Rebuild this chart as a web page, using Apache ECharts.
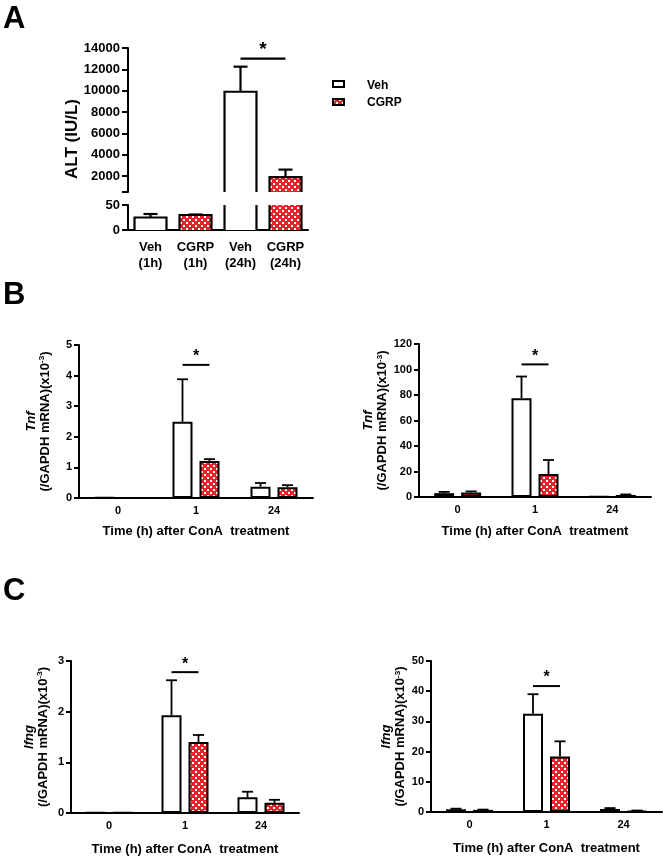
<!DOCTYPE html>
<html><head><meta charset="utf-8">
<script src="https://cdn.jsdelivr.net/npm/echarts@6/dist/echarts.min.js"></script>
<style>html,body{margin:0;padding:0;background:#fff}#c{width:669px;height:860px}</style>
</head><body><div id="c"></div>
<script>
// ---------- Panel A data ----------
const aCategories = ['Veh\n(1h)', 'CGRP\n(1h)', 'Veh\n(24h)', 'CGRP\n(24h)'];
const aValues = [25, 30, 9900, 1900];
const aErrors = [7, 1, 2350, 700];
const aGroups = ['Veh', 'CGRP', 'Veh', 'CGRP'];
const aUpperTicks = [2000, 4000, 6000, 8000, 10000, 12000, 14000];
const aUpperMin = 500, aUpperMax = 14000;
const aLowerMax = 50;
const aSig = [2, 3, 13000];

// ---------- Panels B & C data ----------
const timeCategories = ['0', '1', '24'];
const bLeftVeh = [0.02, 2.49, 0.37],  bLeftVehErr = [0, 1.39, 0.12];
const bLeftCgrp = [0.005, 1.21, 0.35], bLeftCgrpErr = [0, 0.06, 0.07];
const bRightVeh = [3.0, 77.5, 0.3],   bRightVehErr = [1.0, 17, 0];
const bRightCgrp = [3.6, 18, 1.6],    bRightCgrpErr = [0.8, 11, 0.4];
const cLeftVeh = [0.01, 1.93, 0.31],  cLeftVehErr = [0, 0.69, 0.11];
const cLeftCgrp = [0.01, 1.40, 0.20], cLeftCgrpErr = [0, 0.14, 0.06];
const cRightVeh = [0.9, 32.5, 1.0],   cRightVehErr = [0.2, 6.5, 0.3];
const cRightCgrp = [0.7, 18.4, 0.4],  cRightCgrpErr = [0.1, 5.0, 0.1];
const sigY = {bLeft: 4.35, bRight: 104, cLeft: 2.78, cRight: 41.7};
const xName = 'Time (h) after ConA  treatment';

const FONT = "'Liberation Sans', Arial, Helvetica, sans-serif";
const RED = '#e8232a';

// checker pattern for CGRP
const pc = document.createElement('canvas');
pc.width = 6; pc.height = 6;
const px = pc.getContext('2d');
px.fillStyle = RED; px.fillRect(0, 0, 6, 6);
px.fillStyle = '#ffffff';
px.fillRect(0, 0, 2, 2); px.fillRect(3, 3, 2, 2);
const pattern = {image: pc, repeat: 'repeat'};

const chart = echarts.init(document.getElementById('c'), null, {renderer: 'canvas'});

const grids = [], xAxes = [], yAxes = [], series = [];

// ----- Panel A -----
grids.push({left: 128, top: 48, width: 180, height: 144});   // 0 upper
grids.push({left: 128, top: 205, width: 180, height: 25});   // 1 lower
xAxes.push({type: 'category', gridIndex: 0, data: aCategories, show: false});
xAxes.push({type: 'category', gridIndex: 1, data: aCategories,
  axisLine: {lineStyle: {color: '#000', width: 2}},
  axisTick: {alignWithLabel: true, length: 5, lineStyle: {color: '#000', width: 2}},
  axisLabel: {interval: 0, color: '#000', fontFamily: FONT, fontWeight: 'bold', fontSize: 13, lineHeight: 16, margin: 9}
});
yAxes.push({type: 'value', gridIndex: 0, min: aUpperMin, max: aUpperMax,
  splitLine: {show: false},
  axisLine: {show: true, lineStyle: {color: '#000', width: 2}},
  axisTick: {show: true, length: 6, customValues: [aUpperMin].concat(aUpperTicks), lineStyle: {color: '#000', width: 2}},
  axisLabel: {customValues: aUpperTicks, formatter: function (v) { return String(v); }, color: '#000', fontFamily: FONT, fontWeight: 'bold', fontSize: 13, margin: 8}
});
yAxes.push({type: 'value', gridIndex: 1, min: 0, max: aLowerMax, interval: 50,
  splitLine: {show: false},
  axisLine: {show: true, lineStyle: {color: '#000', width: 2}},
  axisTick: {show: true, length: 6, lineStyle: {color: '#000', width: 2}},
  axisLabel: {color: '#000', fontFamily: FONT, fontWeight: 'bold', fontSize: 13, margin: 8}
});

function aRender(isUpper) {
  return function (params, api) {
    const cs = params.coordSys;
    const i = api.value(0), v = api.value(1), e = api.value(2), g = api.value(3);
    if (isUpper && v <= aUpperMin) return;
    const cx = api.coord([i, isUpper ? aUpperMin : 0])[0];
    const bw = api.size([1, 0])[0] * 0.71;
    const x0 = cx - bw / 2, x1 = cx + bw / 2;
    const bottom = cs.y + cs.height, top = cs.y;
    const yTop = api.coord([i, v])[1];
    const ct = Math.max(yTop, top);
    const st = {stroke: '#000', lineWidth: 2.2};
    const ch = [{type: 'rect', shape: {x: x0, y: ct, width: bw, height: bottom - ct},
      style: {fill: g ? pattern : '#fff'}}];
    if (yTop >= top) {
      ch.push({type: 'polyline', shape: {points: [[x0, bottom], [x0, yTop], [x1, yTop], [x1, bottom]]}, style: Object.assign({fill: null}, st)});
      if (e > 0) {
        const ye = Math.max(api.coord([i, v + e])[1], top);
        ch.push({type: 'line', shape: {x1: cx, y1: yTop, x2: cx, y2: ye}, style: st});
        ch.push({type: 'line', shape: {x1: cx - 7, y1: ye, x2: cx + 7, y2: ye}, style: st});
      }
    } else {
      ch.push({type: 'line', shape: {x1: x0, y1: bottom, x2: x0, y2: top}, style: st});
      ch.push({type: 'line', shape: {x1: x1, y1: bottom, x2: x1, y2: top}, style: st});
    }
    return {type: 'group', children: ch};
  };
}
const aData = aValues.map((v, i) => [i, v, aErrors[i], aGroups[i] === 'CGRP' ? 1 : 0]);
series.push({type: 'custom', xAxisIndex: 0, yAxisIndex: 0, data: aData, renderItem: aRender(true), encode: {x: 0, y: 1}, silent: true});
series.push({type: 'custom', xAxisIndex: 1, yAxisIndex: 1, data: aData, renderItem: aRender(false), encode: {x: 0, y: 1}, silent: true});
// significance in A
series.push({type: 'custom', xAxisIndex: 0, yAxisIndex: 0, data: [aSig], encode: {x: 0, y: 2},
  renderItem: function (params, api) {
    const xa = api.coord([api.value(0), api.value(2)]);
    const xb = api.coord([api.value(1), api.value(2)]);
    return {type: 'group', children: [
      {type: 'line', shape: {x1: xa[0], y1: xa[1], x2: xb[0], y2: xb[1]}, style: {stroke: '#000', lineWidth: 2.2}},
      {type: 'text', x: (xa[0] + xb[0]) / 2, y: xa[1] + 1, style: {text: '*', fill: '#000', font: 'bold 19px ' + FONT, align: 'center', verticalAlign: 'bottom'}}
    ]};
  }, silent: true});

// ----- Panels B, C -----
const panels = [
  {grid: {left: 79, top: 345, width: 234, height: 153}, max: 5, interval: 1, veh: bLeftVeh, vehErr: bLeftVehErr, cgrp: bLeftCgrp, cgrpErr: bLeftCgrpErr, sig: sigY.bLeft, gene: 'Tnf', gap: 27, xGap: 27},
  {grid: {left: 419, top: 344, width: 232, height: 153}, max: 120, interval: 20, veh: bRightVeh, vehErr: bRightVehErr, cgrp: bRightCgrp, cgrpErr: bRightCgrpErr, sig: sigY.bRight, gene: 'Tnf', gap: 24, xGap: 28},
  {grid: {left: 71, top: 661, width: 228, height: 152}, max: 3, interval: 1, veh: cLeftVeh, vehErr: cLeftVehErr, cgrp: cLeftCgrp, cgrpErr: cLeftCgrpErr, sig: sigY.cLeft, gene: 'Ifng', gap: 21, xGap: 30},
  {grid: {left: 431, top: 661, width: 231, height: 151}, max: 50, interval: 10, veh: cRightVeh, vehErr: cRightVehErr, cgrp: cRightCgrp, cgrpErr: cRightCgrpErr, sig: sigY.cRight, gene: 'Ifng', gap: 20, xGap: 30}
];

const BW = 20, OFF = 13.5;
function errRender(offset) {
  return function (params, api) {
    const i = api.value(0), v = api.value(1), e = api.value(2);
    if (!(e > 0)) return;
    const x = api.coord([i, 0])[0] + offset;
    const y0 = api.coord([i, v])[1], y1 = api.coord([i, v + e])[1];
    const st = {stroke: '#000', lineWidth: 1.8};
    return {type: 'group', children: [
      {type: 'line', shape: {x1: x, y1: y0, x2: x, y2: y1}, style: st},
      {type: 'line', shape: {x1: x - 5.5, y1: y1, x2: x + 5.5, y2: y1}, style: st}
    ]};
  };
}

panels.forEach(function (p) {
  const gi = grids.length;
  grids.push(p.grid);
  xAxes.push({type: 'category', gridIndex: gi, data: timeCategories,
    name: xName, nameLocation: 'middle', nameGap: p.xGap,
    nameTextStyle: {color: '#000', fontFamily: FONT, fontWeight: 'bold', fontSize: 13},
    axisLine: {lineStyle: {color: '#000', width: 2}},
    axisTick: {alignWithLabel: true, length: 4, lineStyle: {color: '#000', width: 2}},
    axisLabel: {interval: 0, color: '#000', fontFamily: FONT, fontWeight: 'bold', fontSize: 11, margin: 7}
  });
  yAxes.push({type: 'value', gridIndex: gi, min: 0, max: p.max, interval: p.interval,
    splitLine: {show: false},
    axisLine: {show: true, lineStyle: {color: '#000', width: 2}},
    axisTick: {show: true, length: 5, lineStyle: {color: '#000', width: 2}},
    axisLabel: {color: '#000', fontFamily: FONT, fontWeight: 'bold', fontSize: 11, margin: 7},
    name: '{it|' + p.gene + '}\n{t|(/GAPDH mRNA)(x10}{sup|-3}{t|)}',
    nameLocation: 'middle', nameGap: p.gap,
    nameTextStyle: {color: '#000', lineHeight: 14, rich: {
      it: {fontFamily: FONT, fontStyle: 'italic', fontWeight: 'bold', fontSize: 13, lineHeight: 14, color: '#000'},
      t: {fontFamily: FONT, fontWeight: 'bold', fontSize: 13, lineHeight: 14, color: '#000'},
      sup: {fontFamily: FONT, fontWeight: 'bold', fontSize: 8, lineHeight: 14, verticalAlign: 'top', color: '#000'}
    }}
  });
  series.push({name: 'Veh', type: 'bar', xAxisIndex: gi, yAxisIndex: gi, data: p.veh, barWidth: BW, barGap: '35%',
    itemStyle: {color: '#fff', borderColor: '#000', borderWidth: 2}, silent: true});
  series.push({name: 'CGRP', type: 'bar', xAxisIndex: gi, yAxisIndex: gi, data: p.cgrp, barWidth: BW, barGap: '35%',
    itemStyle: {color: pattern, borderColor: '#000', borderWidth: 2}, silent: true});
  series.push({type: 'custom', xAxisIndex: gi, yAxisIndex: gi, encode: {x: 0, y: 1},
    data: p.veh.map((v, i) => [i, v, p.vehErr[i]]), renderItem: errRender(-OFF), silent: true});
  series.push({type: 'custom', xAxisIndex: gi, yAxisIndex: gi, encode: {x: 0, y: 1},
    data: p.cgrp.map((v, i) => [i, v, p.cgrpErr[i]]), renderItem: errRender(OFF), silent: true});
  series.push({type: 'custom', xAxisIndex: gi, yAxisIndex: gi, encode: {x: 0, y: 1},
    data: [[1, p.sig]], silent: true,
    renderItem: function (params, api) {
      const c = api.coord([api.value(0), api.value(1)]);
      return {type: 'group', children: [
        {type: 'line', shape: {x1: c[0] - OFF, y1: c[1], x2: c[0] + OFF, y2: c[1]}, style: {stroke: '#000', lineWidth: 2}},
        {type: 'text', x: c[0], y: c[1], style: {text: '*', fill: '#000', font: 'bold 16px ' + FONT, align: 'center', verticalAlign: 'bottom'}}
      ]};
    }});
});

const graphic = [
  {type: 'text', left: 3, top: 4, style: {text: 'A', font: 'bold 31px ' + FONT, fill: '#000'}},
  {type: 'text', left: 3, top: 280, style: {text: 'B', font: 'bold 31px ' + FONT, fill: '#000'}},
  {type: 'text', left: 3, top: 576, style: {text: 'C', font: 'bold 31px ' + FONT, fill: '#000'}},
  {type: 'text', x: 72, y: 139, rotation: Math.PI / 2, style: {text: 'ALT (IU/L)', font: 'bold 17px ' + FONT, fill: '#000', align: 'center', verticalAlign: 'middle'}},
  {type: 'rect', shape: {x: 333, y: 81, width: 11, height: 6}, style: {fill: '#fff', stroke: '#000', lineWidth: 2}},
  {type: 'rect', shape: {x: 333, y: 99, width: 11, height: 6}, style: {fill: pattern, stroke: '#000', lineWidth: 2}},
  {type: 'text', x: 367, y: 86, style: {text: 'Veh', font: 'bold 12px ' + FONT, fill: '#000', align: 'left', verticalAlign: 'middle'}},
  {type: 'text', x: 367, y: 103, style: {text: 'CGRP', font: 'bold 12px ' + FONT, fill: '#000', align: 'left', verticalAlign: 'middle'}}
];

chart.setOption({
  backgroundColor: '#fff',
  animation: false,
  grid: grids,
  xAxis: xAxes,
  yAxis: yAxes,
  series: series,
  graphic: graphic
});
</script></body></html>
